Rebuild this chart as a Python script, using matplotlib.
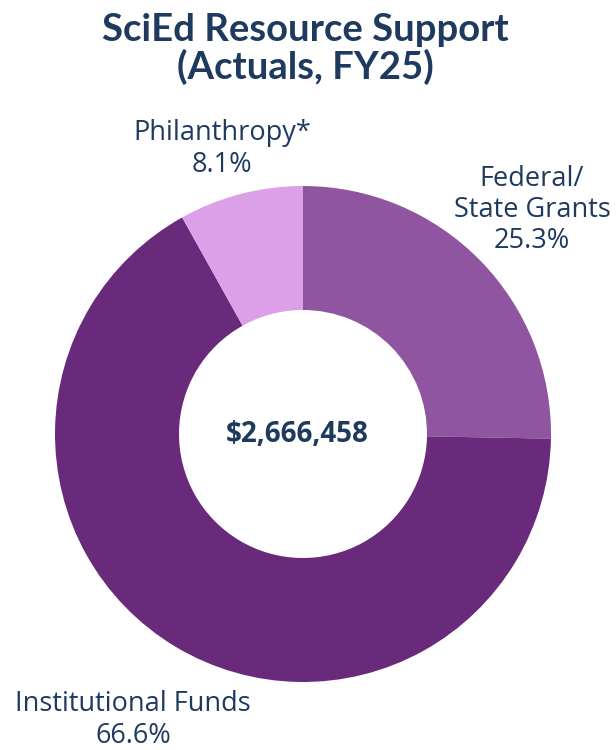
import numpy as np
import matplotlib.pyplot as plt

# data
labels = ['Federal/\nState Grants', 'Institutional Funds', 'Philanthropy*']
shares = [25.3, 66.6, 8.1]
colors = ['#9055a0', '#6a2a7b', '#dba0e8']
total_label = '$2,666,458'
title = 'SciEd Resource Support\n(Actuals, FY25)'

navy = '#1e3a5f'
plt.rcParams['font.family'] = ['Open Sans', 'DejaVu Sans']

fig = plt.figure(figsize=(6.16, 7.5), dpi=100)
ax = fig.add_axes([0, 0, 1, 1])
ax.set_xlim(0, 616)
ax.set_ylim(0, 750)
ax.set_aspect('equal')
ax.axis('off')

# donut, drawn clockwise from 12 o'clock
ax.pie(shares, colors=colors, startangle=90, counterclock=False,
       center=(303, 316), radius=248,
       wedgeprops=dict(width=124, edgecolor='none'))
ax.set_xlim(0, 616)
ax.set_ylim(0, 750)

ax.text(305, 701, title, ha='center', va='center', fontsize=27.5,
        fontweight='bold', color=navy, linespacing=1.05, family=['Lato', 'DejaVu Sans'])
ax.text(297, 316, total_label, ha='center', va='center', fontsize=20,
        fontweight='bold', color=navy)

# slice labels
ax.text(532, 540, labels[0] + '\n' + f'{shares[0]}%', ha='center', va='center',
        fontsize=19.5, color=navy, linespacing=1.15)
ax.text(133, 30, labels[1] + '\n' + f'{shares[1]}%', ha='center', va='center',
        fontsize=19.5, color=navy, linespacing=1.15)
ax.text(222, 601, labels[2] + '\n' + f'{shares[2]}%', ha='center', va='center',
        fontsize=19.5, color=navy, linespacing=1.15)

fig.savefig('out.png', dpi=100)
